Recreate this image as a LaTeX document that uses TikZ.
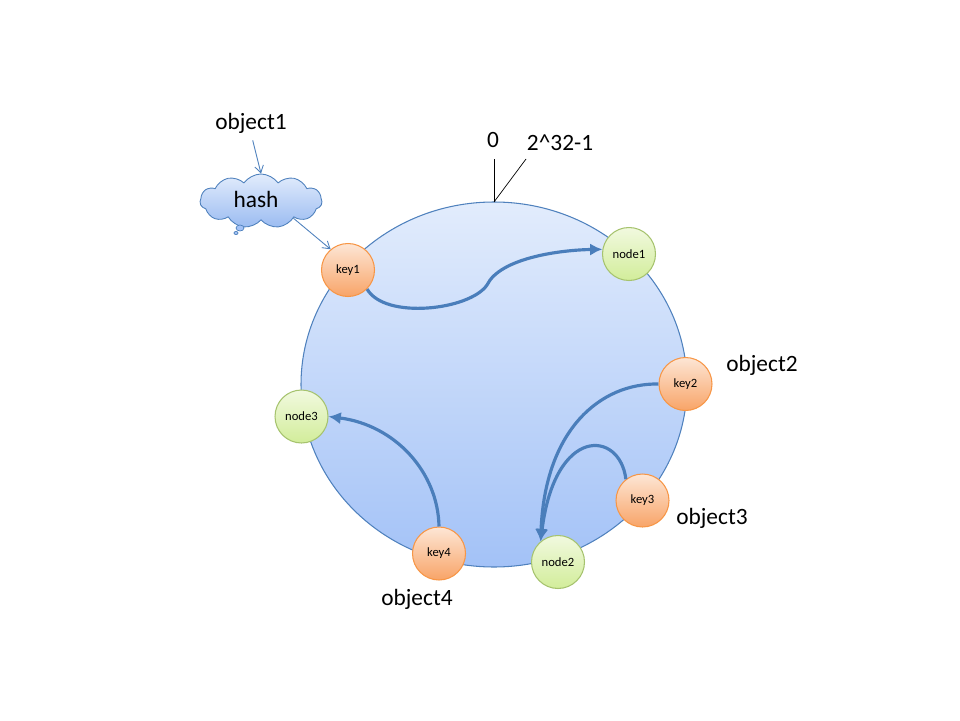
\documentclass[tikz,border=0pt]{standalone}
\usepackage{fontspec}
\setmainfont{Carlito}
\usetikzlibrary{shapes.symbols,arrows.meta}

\definecolor{ringline}{HTML}{4F81BD}
\definecolor{hopblue}{HTML}{4A7EBB}
\definecolor{ringtop}{HTML}{E2ECFC}
\definecolor{ringbot}{HTML}{A3C2F7}
\definecolor{keytop}{HTML}{FDE6D5}
\definecolor{keybot}{HTML}{F8A468}
\definecolor{keyline}{HTML}{F79646}
\definecolor{nodetop}{HTML}{F1F9DF}
\definecolor{nodebot}{HTML}{D2ED9A}
\definecolor{nodeline}{HTML}{A6C36E}

\begin{document}
\begin{tikzpicture}[x=0.02cm,y=-0.02cm,
  keyball/.style={circle,draw=keyline,line width=0.6pt,top color=keytop,bottom color=keybot,
    minimum size=1.06cm,inner sep=0pt,font=\fontsize{7.2}{9}\selectfont},
  nodeball/.style={circle,draw=nodeline,line width=0.6pt,top color=nodetop,bottom color=nodebot,
    minimum size=1.06cm,inner sep=0pt,font=\fontsize{7.2}{9}\selectfont},
  lbl/.style={font=\fontsize{13.3}{16}\selectfont,inner sep=0pt},
  hop/.style={draw=hopblue,line width=1.8pt,-{Latex[length=7pt,width=7pt]}},
  feed/.style={draw=ringline,line width=0.5pt,-{Straight Barb[length=4pt,width=5pt]}}]

\useasboundingbox (0,0) rectangle (960,720);

% ring
\draw[ringline,line width=0.6pt,top color=ringtop,bottom color=ringbot] (494,384.5) ellipse [x radius=193,y radius=182.5];
\coordinate (ringtop) at (494,202);
\coordinate (tick) at (494,159);
\coordinate (slant) at (526,159);
\draw (tick) -- (ringtop);
\draw (slant) -- (ringtop);
\node[lbl] (zero) at (493,140) {0};
\node[lbl] (max) at (560,143) {2\^{}32-1};

% hash cloud
\node[cloud,cloud puffs=11,cloud puff arc=110,aspect=2.3,draw=ringline,line width=0.5pt,
  top color=ringtop,bottom color=ringbot!90!ringline,minimum width=2.44cm,minimum height=1.08cm,
  inner sep=0pt] (hash) at (261,201) {};
\node[lbl] (hashtxt) at (256,199) {hash};
\draw[ringline,line width=0.4pt,fill=ringbot] (240,228) ellipse [x radius=4,y radius=3];
\draw[ringline,line width=0.4pt,fill=ringbot] (236,233) ellipse [x radius=2,y radius=1.6];

% keys and nodes
\node[keyball] (key1) at (348,270) {key1};
\node[keyball] (key2) at (685.5,384) {key2};
\node[keyball] (key3) at (642.5,500.5) {key3};
\node[keyball] (key4) at (439,553.5) {key4};
\node[nodeball] (node1) at (629,254) {node1};
\node[nodeball] (node2) at (558,562) {node2};
\node[nodeball] (node3) at (301.5,416.5) {node3};

% labels
\node[lbl] (o1) at (251,123) {object1};
\node[lbl] (o2) at (762,365) {object2};
\node[lbl] (o3) at (712,518) {object3};
\node[lbl] (o4) at (417,599) {object4};

% thin arrows
\draw[feed,shorten <=4pt] (o1.south) -- (hash.north);
\draw[feed] (hash.-28) -- (key1.130);

% mapping arrows
\draw[hop] (key1.-45) .. controls (385,320) and (470,310) .. (487,285)
  .. controls (500,258) and (560,250) .. (node1.170);
\draw[hop] (key2.180) .. controls (600,383) and (545,430) .. (node2.130);
\draw[hop] (key3.128) .. controls (620,430) and (555,425) .. (node2.130);
\draw[hop] (key4.90) .. controls (438,472) and (395,425) .. (node3.east);
\end{tikzpicture}
\end{document}
